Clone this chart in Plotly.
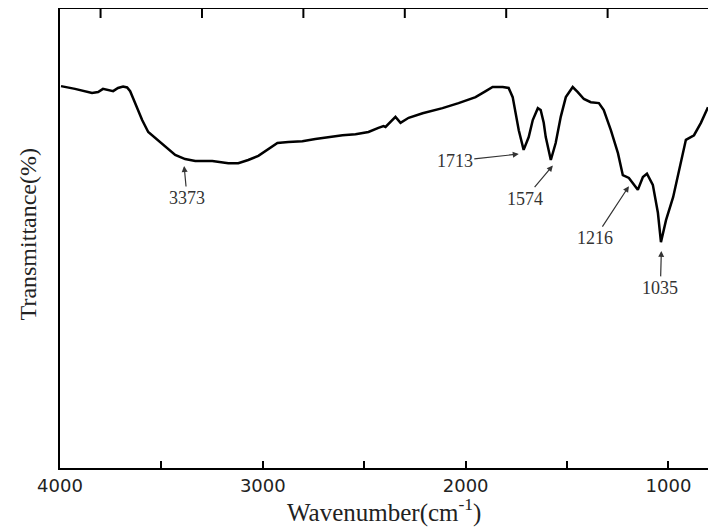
import plotly.graph_objects as go

# Wavenumber (cm^-1) and transmittance (%)
wavenumber = [3995, 3926, 3842, 3812, 3788, 3763, 3738, 3714, 3689, 3669, 3654, 3640, 3620,
              3595, 3565, 3531, 3481, 3432, 3383, 3333, 3249, 3170, 3121, 3072, 3022, 2973,
              2928, 2874, 2805, 2741, 2677, 2607, 2543, 2479, 2430, 2405, 2395, 2360, 2346,
              2321, 2281, 2212, 2114, 2035, 1951, 1901, 1867, 1817, 1788, 1768, 1753, 1738,
              1714, 1689, 1669, 1644, 1630, 1615, 1605, 1580, 1556, 1531, 1506, 1472, 1447,
              1417, 1383, 1343, 1319, 1284, 1249, 1225, 1195, 1170, 1151, 1126, 1106, 1077,
              1052, 1037, 1012, 977, 948, 914, 874, 840, 805]
transmittance = [83.2, 82.6, 81.7, 81.9, 82.6, 82.4, 82.1, 82.8, 83.1, 82.9, 82.1, 80.6, 78.4,
                 75.8, 73.2, 71.9, 69.9, 68.2, 67.3, 66.9, 66.9, 66.4, 66.4, 67.1, 68.0, 69.5,
                 70.8, 71.0, 71.2, 71.7, 72.1, 72.5, 72.7, 73.2, 74.1, 74.5, 74.3, 75.8, 76.5,
                 75.2, 76.3, 77.3, 78.4, 79.5, 80.8, 82.1, 83.0, 83.0, 82.8, 80.8, 77.3, 73.6,
                 69.3, 72.1, 75.8, 78.4, 78.0, 75.2, 72.1, 67.1, 70.8, 76.5, 80.8, 83.0, 81.9,
                 80.4, 79.7, 79.5, 78.0, 73.6, 68.6, 63.8, 63.2, 61.7, 60.6, 63.4, 64.1, 61.7,
                 55.6, 49.2, 54.0, 59.0, 64.9, 71.5, 72.5, 75.2, 78.6]

# bottom axis: labelled major ticks and unlabelled minor ticks
tick_vals = [1000, 2000, 3000, 4000]
tick_text = ["1000", "2000", "3000", "4000"]
minor_tick_vals = [1500, 2500, 3500]
# top axis ticks (unlabelled)
top_tick_vals = [3800, 3300, 2800, 2300, 1800, 1300]

# peak labels: text, arrow head (wavenumber, transmittance), label offset (px)
peak_labels = ["3373", "1713", "1574", "1216", "1035"]
peak_head_x = [3388, 1738, 1570, 1195, 1035]
peak_head_y = [65.8, 68.4, 65.9, 61.4, 47.3]
peak_ax = [3, -64, -28, -34, -1]
peak_ay = [32, 7, 33, 52, 37]

x_range = [4000, 805]
top_tick_len_frac = 9 / 459  # length of the top ticks as a fraction of the plot height

fig = go.Figure()
fig.add_trace(go.Scatter(x=wavenumber, y=transmittance, mode="lines",
                         line=dict(color="black", width=2.5), showlegend=False,
                         hoverinfo="skip"))

for t, hx, hy, ax, ay in zip(peak_labels, peak_head_x, peak_head_y, peak_ax, peak_ay):
    fig.add_annotation(x=hx, y=hy, xref="x", yref="y", text=t, showarrow=True,
                       ax=ax, ay=ay, arrowhead=2, arrowsize=1, arrowwidth=1.2,
                       arrowcolor="#333333",
                       font=dict(family="Liberation Serif", size=18, color="#333333"))

# top-edge ticks (the frame's top edge carries unlabelled ticks at its own positions)
for tv in top_tick_vals:
    fig.add_shape(type="line", xref="x", yref="paper", x0=tv, x1=tv,
                  y0=1, y1=1 - top_tick_len_frac, line=dict(color="black", width=2))

# axis titles
fig.add_annotation(x=0.5, y=-0.092, xref="paper", yref="paper", showarrow=False,
                   text="Wavenumber(cm<sup>-1</sup>)", xanchor="center", yanchor="middle",
                   font=dict(family="Liberation Serif", size=25, color="#222222"))
fig.add_annotation(x=-0.05, y=0.508, xref="paper", yref="paper", showarrow=False,
                   text="Transmittance(%)", textangle=-90, xanchor="center", yanchor="middle",
                   font=dict(family="Liberation Serif", size=24, color="#222222"))

# the page body has an 8px margin, so the figure is sized/offset to compensate
fig.update_layout(
    width=708, height=521,
    margin=dict(l=52, r=8, t=1, b=61),
    paper_bgcolor="white", plot_bgcolor="white",
    xaxis=dict(range=x_range, tickvals=tick_vals, ticktext=tick_text, automargin=False,
               ticks="inside", ticklen=7, tickwidth=2, tickcolor="black",
               minor=dict(tickvals=minor_tick_vals, ticks="inside", ticklen=7,
                          tickwidth=2, tickcolor="black", showgrid=False),
               showline=True, linewidth=2, linecolor="black", mirror=True,
               showgrid=False, zeroline=False,
               tickfont=dict(family="DejaVu Sans", size=18, color="#222222")),
    yaxis=dict(range=[0, 100], showticklabels=False, ticks="", automargin=False,
               showline=True, linewidth=2, linecolor="black", mirror=True,
               showgrid=False, zeroline=False),
)

fig.write_html("out.html")
